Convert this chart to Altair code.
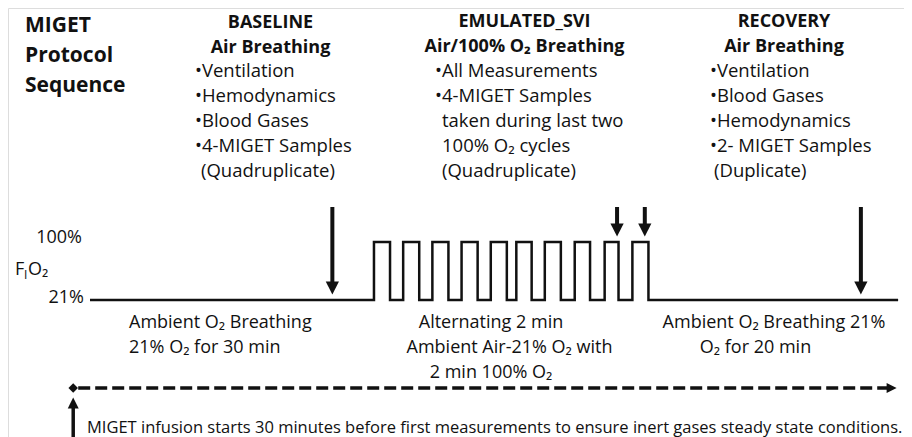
import altair as alt
import pandas as pd

# ---------------- data ----------------
title_lines = ["MIGET", "Protocol", "Sequence"]
phase_titles = ["BASELINE", "EMULATED_SVI", "RECOVERY"]
phase_subtitles = ["Air Breathing", "Air/100% O\u2082 Breathing", "Air Breathing"]
baseline_items = ["\u2022Ventilation", "\u2022Hemodynamics", "\u2022Blood Gases", "\u20224-MIGET Samples"]
baseline_cont = ["(Quadruplicate)"]
svi_items = ["\u2022All Measurements", "\u20224-MIGET Samples"]
svi_cont = ["taken during last two", "100% O\u2082 cycles", "(Quadruplicate)"]
recovery_items = ["\u2022Ventilation", "\u2022Blood Gases", "\u2022Hemodynamics", "\u20222- MIGET Samples"]
recovery_cont = ["(Duplicate)"]
notes_baseline = ["Ambient O\u2082 Breathing", "21% O\u2082 for 30 min"]
notes_svi = ["Alternating 2 min", "Ambient Air-21% O\u2082 with", "2 min 100% O\u2082"]
notes_recovery = ["Ambient O\u2082 Breathing 21%", "O\u2082 for 20 min"]
footnote = "MIGET infusion starts 30 minutes before first measurements to ensure inert gases steady state conditions."
fio2_tick_labels = ["100%", "21%"]

# FiO2 square wave, time in schematic minutes
t_start = 0.0
t_end = 110.7
pulse_on = [38.9, 42.9, 46.9, 50.9, 54.9, 58.4, 62.3, 66.4, 70.5, 74.3]
pulse_off = [41.1, 45.1, 49.1, 53.1, 57.1, 60.5, 64.5, 68.5, 72.4, 76.5]
fio2_low = 21
fio2_high = 100
sample_t = [33.2, 72.2, 76.0, 105.6]
sample_fio2 = [21, 100, 100, 21]
infusion_t = [-2.3, 110.5]

# ---------------- layout ----------------
W, H = 896, 429
M = 8  # page margin
FONT = "Open Sans"
INK = "#111111"

PX_T0, PX_PER_MIN = 90.0, 7.3
x_scale = alt.Scale(domain=[(M - PX_T0) / PX_PER_MIN, (M + W - PX_T0) / PX_PER_MIN], nice=False, zero=False)
y_low_px, y_high_px = 300 - M, 242 - M
px_per_unit = (y_low_px - y_high_px) / (fio2_high - fio2_low)
d0 = fio2_low - (H - y_low_px) / px_per_unit
y_scale = alt.Scale(domain=[d0, d0 + H / px_per_unit], nice=False, zero=False)


def block(lines, x, y, size, bold=False, align="left", lh=25):
    df = pd.DataFrame({"label": ["\n".join(lines)]})
    return alt.Chart(df).mark_text(
        align=align, baseline="alphabetic", font=FONT, fontSize=size,
        fontWeight="bold" if bold else "normal", lineBreak="\n", lineHeight=lh, color=INK
    ).encode(x=alt.value(x - M), y=alt.value(y - M), text="label:N")


layers = []

# wave
wt, wv = [t_start], [fio2_low]
for a, b in zip(pulse_on, pulse_off):
    wt += [a, a, b, b]
    wv += [fio2_low, fio2_high, fio2_high, fio2_low]
wt.append(t_end)
wv.append(fio2_low)
wave = pd.DataFrame({"t": wt, "fio2": wv, "i": list(range(len(wt)))})
layers.append(
    alt.Chart(wave).mark_line(color=INK, strokeWidth=2.5, strokeJoin="miter").encode(
        x=alt.X("t:Q", scale=x_scale, axis=None),
        y=alt.Y("fio2:Q", scale=y_scale, axis=None),
        order="i:Q",
    )
)

# sample arrows
samp = pd.DataFrame({"t": sample_t, "fio2": sample_fio2})
layers.append(
    alt.Chart(samp).mark_rule(color=INK, strokeWidth=4, yOffset=-14).encode(
        x=alt.X("t:Q", scale=x_scale, axis=None),
        y=alt.Y("fio2:Q", scale=y_scale, axis=None),
        y2=alt.value(207 - M),
    )
)
layers.append(
    alt.Chart(samp).mark_point(shape="M-1,-1L1,-1L0,1Z", filled=True, size=175, opacity=1,
                               color=INK, yOffset=-12).encode(
        x=alt.X("t:Q", scale=x_scale, axis=None),
        y=alt.Y("fio2:Q", scale=y_scale, axis=None),
    )
)

# infusion dashed timeline
inf = pd.DataFrame({"t0": [infusion_t[0]], "t1": [infusion_t[1]]})
layers.append(
    alt.Chart(inf).mark_rule(color=INK, strokeWidth=3.5, strokeDash=[12, 5], xOffset=5, x2Offset=-8).encode(
        x=alt.X("t0:Q", scale=x_scale, axis=None), x2="t1:Q", y=alt.value(388 - M)
    )
)
layers.append(
    alt.Chart(inf).mark_point(shape="M-1,0L0,-1L1,0L0,1Z", filled=True, size=90, opacity=1, color=INK).encode(
        x=alt.X("t0:Q", scale=x_scale, axis=None), y=alt.value(388 - M)
    )
)
layers.append(
    alt.Chart(inf).mark_point(shape="M-1,-1L1,0L-1,1Z", filled=True, size=100, opacity=1, color=INK, xOffset=-5).encode(
        x=alt.X("t1:Q", scale=x_scale, axis=None), y=alt.value(388 - M)
    )
)
# up arrow at infusion start
layers.append(
    alt.Chart(inf).mark_rule(color=INK, strokeWidth=3.5).encode(
        x=alt.X("t0:Q", scale=x_scale, axis=None), y=alt.value(H + 10), y2=alt.value(406 - M)
    )
)
layers.append(
    alt.Chart(inf).mark_point(shape="M-1,1L1,1L0,-1Z", filled=True, size=120, opacity=1, color=INK).encode(
        x=alt.X("t0:Q", scale=x_scale, axis=None), y=alt.value(403 - M)
    )
)

# texts
layers.append(block(title_lines, 25, 31.5, 21, bold=True, lh=30))
layers.append(block([phase_titles[0], phase_subtitles[0]], 270.5, 27.5, 18, bold=True, align="center"))
layers.append(block([phase_titles[1], phase_subtitles[1]], 524.5, 27, 18, bold=True, align="center"))
layers.append(block([phase_titles[2], phase_subtitles[2]], 784, 27, 18, bold=True, align="center"))
layers.append(block(baseline_items, 195, 77, 18.5))
layers.append(block(baseline_cont, 201, 177, 18.5))
layers.append(block(svi_items, 435, 76.5, 18.5))
layers.append(block(svi_cont, 442, 126.5, 18.5))
layers.append(block(recovery_items, 710, 77, 18.5))
layers.append(block(recovery_cont, 714, 177, 18.5))

layers.append(block([fio2_tick_labels[0]], 82, 243, 18, align="right"))
layers.append(block([fio2_tick_labels[1]], 84, 303, 18, align="right"))
layers.append(block(["F"], 15, 275, 18))
layers.append(block(["I"], 24, 279, 12))
layers.append(block(["O\u2082"], 28, 275, 18))

layers.append(block(notes_baseline, 129, 328, 18))
layers.append(block([notes_svi[0]], 491, 328, 18, align="center"))
layers.append(block([notes_svi[1]], 509.5, 353, 18, align="center"))
layers.append(block([notes_svi[2]], 491, 377.5, 18, align="center"))
layers.append(block([notes_recovery[0]], 774, 328, 18, align="center"))
layers.append(block([notes_recovery[1]], 755.5, 353, 18, align="center"))
layers.append(block([footnote], 87, 433, 16.5))

chart = alt.layer(*layers).properties(
    width=W, height=H, padding=0, autosize=alt.AutoSizeParams(type="none")
).configure_view(stroke=None).configure(background="white")

chart.save("out.html", embed_options={"renderer": "svg", "actions": False})
